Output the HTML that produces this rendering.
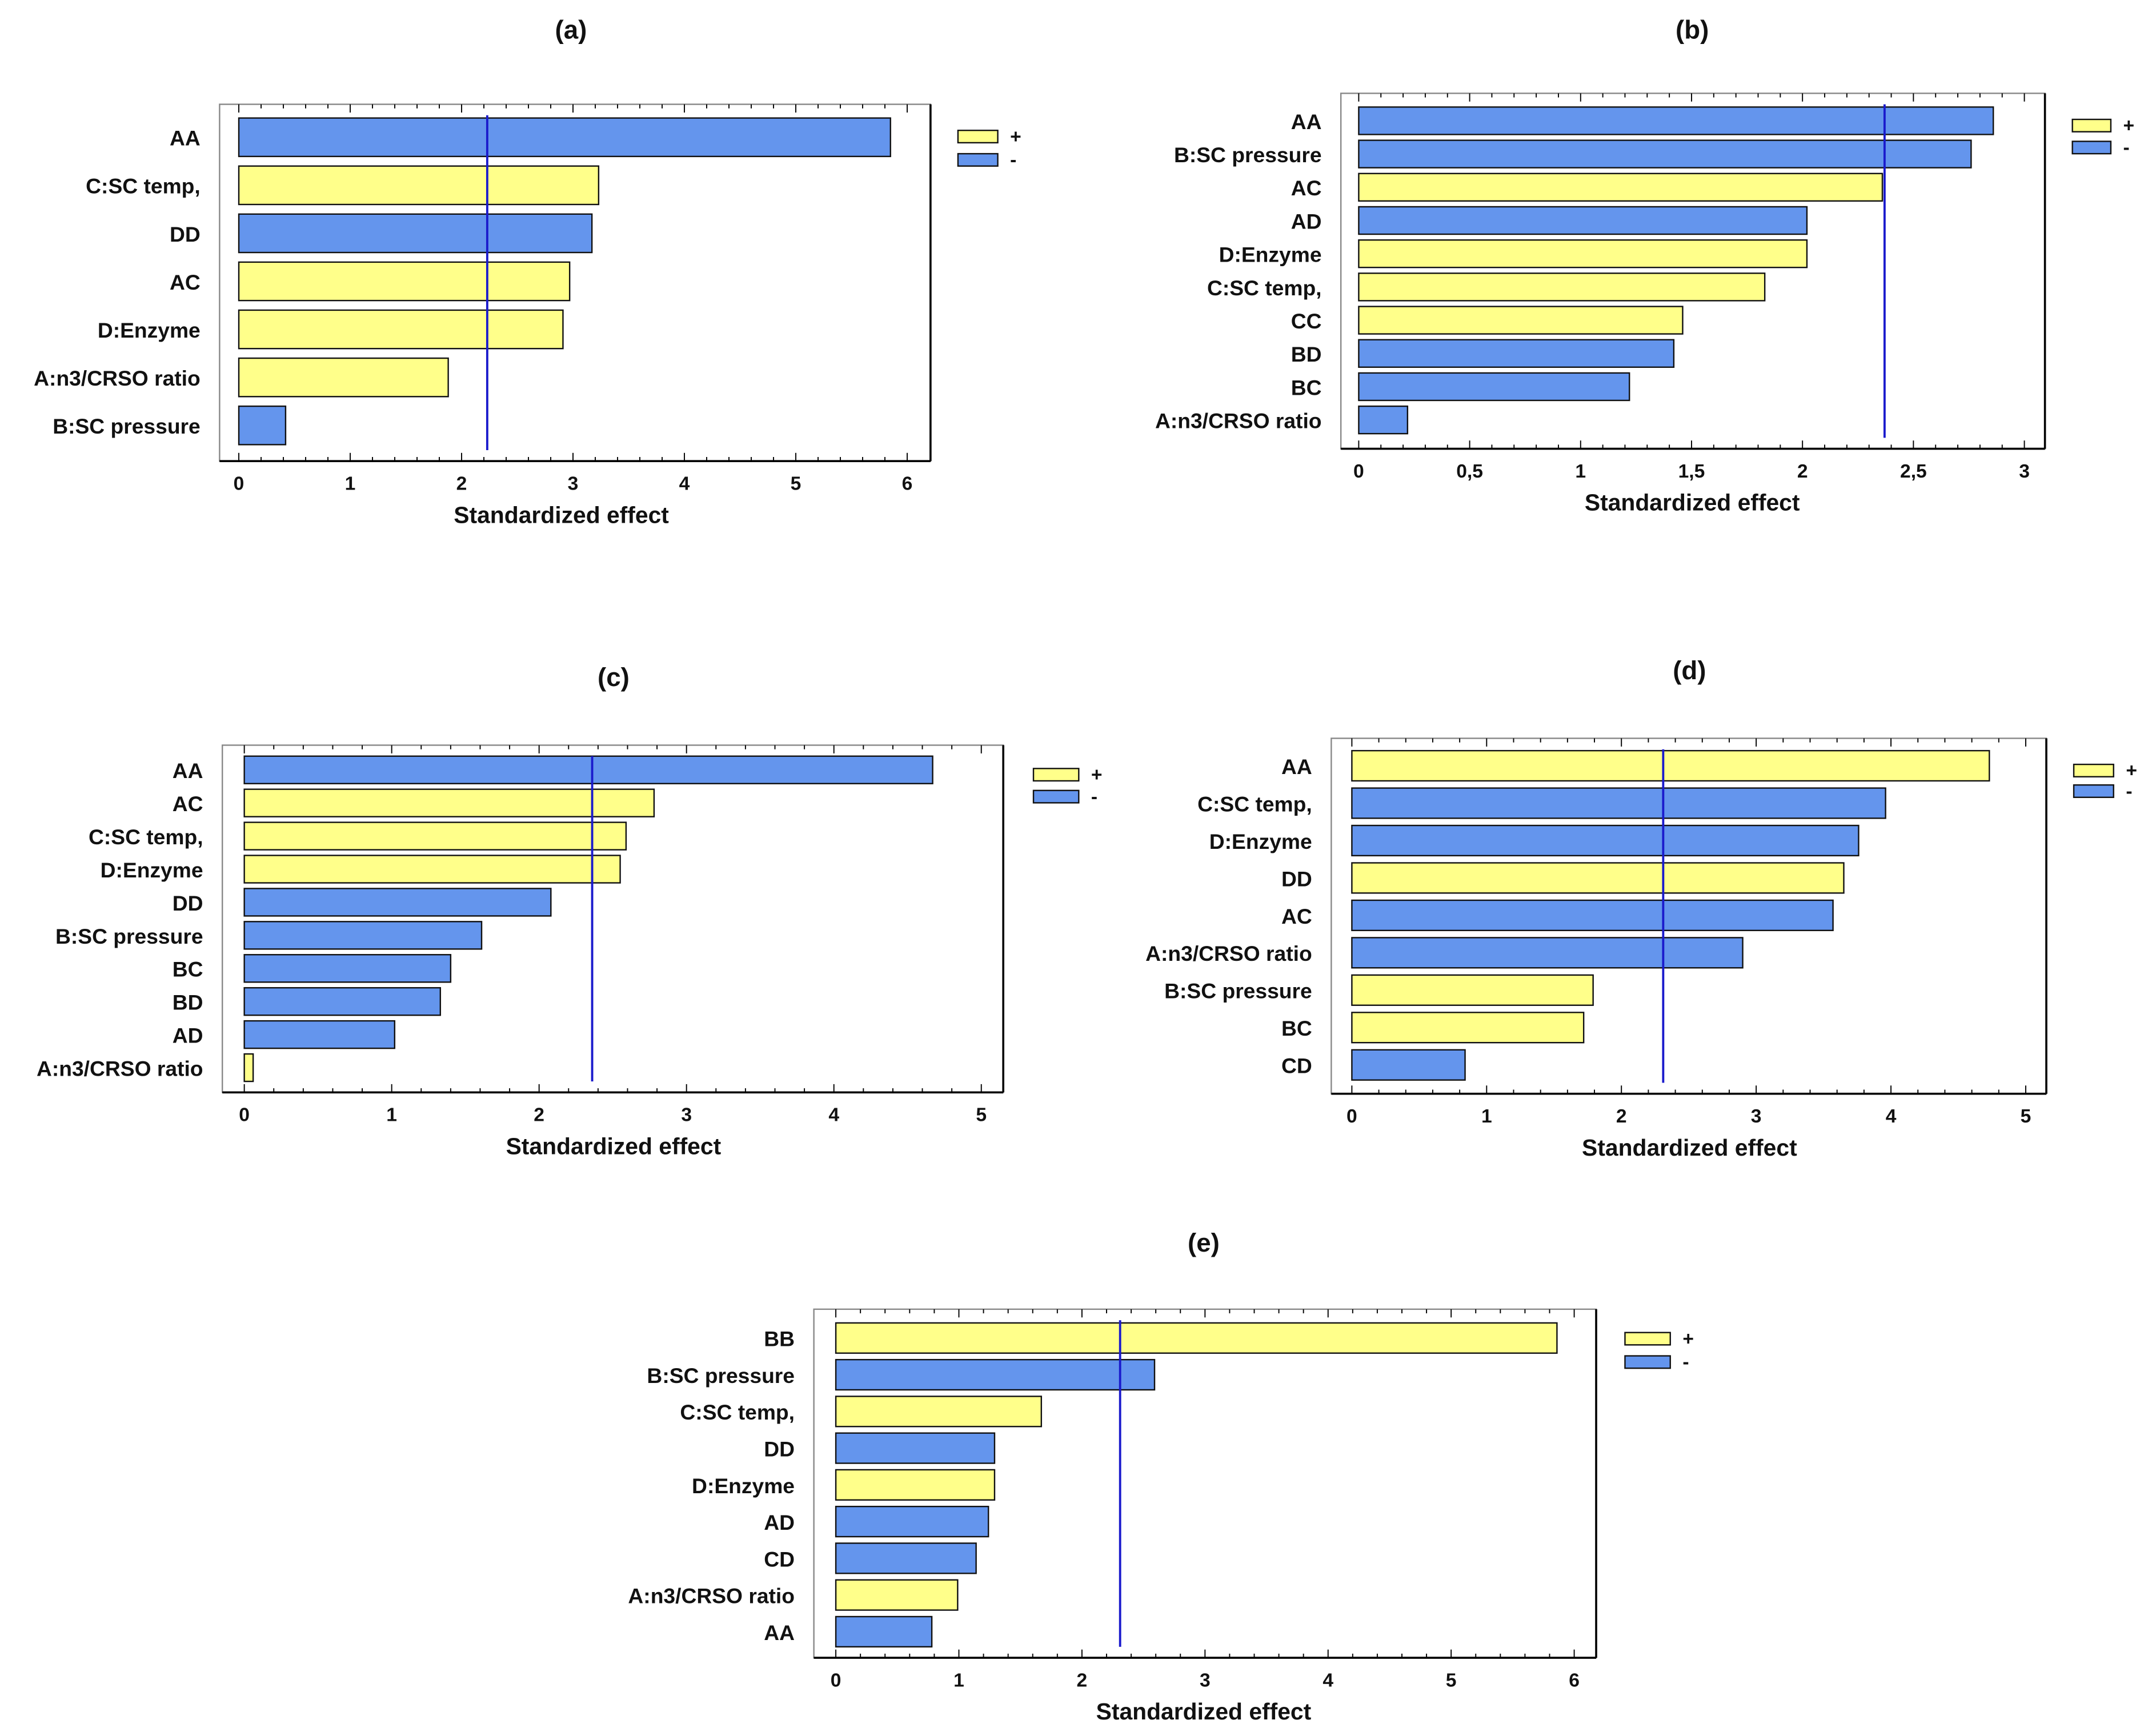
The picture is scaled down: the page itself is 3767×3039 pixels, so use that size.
<!DOCTYPE html>
<html><head><meta charset="utf-8"><style>
html,body{margin:0;padding:0;background:#fff;}
svg{display:block;}
text{font-family:"Liberation Sans",Arial,sans-serif;font-weight:bold;fill:#111;}
</style></head><body>
<svg id="fig" width="3767" height="3039" viewBox="0 0 1568 1265" preserveAspectRatio="none" xmlns="http://www.w3.org/2000/svg"></svg>
<script>
// ---- Panel (a) data ----
const catsA = ["AA","C:SC temp,","DD","AC","D:Enzyme","A:n3/CRSO ratio","B:SC pressure"];
const valsA = [5.85,3.23,3.17,2.97,2.91,1.88,0.42];
const signA = ["-","+","-","+","+","+","-"];
const ticksA = ["0","1","2","3","4","5","6"];
const critA = 2.23;
// ---- Panel (b) data ----
const catsB = ["AA","B:SC pressure","AC","AD","D:Enzyme","C:SC temp,","CC","BD","BC","A:n3/CRSO ratio"];
const valsB = [2.86,2.76,2.36,2.02,2.02,1.83,1.46,1.42,1.22,0.22];
const signB = ["-","-","+","-","+","+","+","-","-","-"];
const ticksB = ["0","0,5","1","1,5","2","2,5","3"];
const critB = 2.37;
// ---- Panel (c) data ----
const catsC = ["AA","AC","C:SC temp,","D:Enzyme","DD","B:SC pressure","BC","BD","AD","A:n3/CRSO ratio"];
const valsC = [4.67,2.78,2.59,2.55,2.08,1.61,1.40,1.33,1.02,0.06];
const signC = ["-","+","+","+","-","-","-","-","-","+"];
const ticksC = ["0","1","2","3","4","5"];
const critC = 2.36;
// ---- Panel (d) data ----
const catsD = ["AA","C:SC temp,","D:Enzyme","DD","AC","A:n3/CRSO ratio","B:SC pressure","BC","CD"];
const valsD = [4.73,3.96,3.76,3.65,3.57,2.90,1.79,1.72,0.84];
const signD = ["+","-","-","+","-","-","+","+","-"];
const ticksD = ["0","1","2","3","4","5"];
const critD = 2.31;
// ---- Panel (e) data ----
const catsE = ["BB","B:SC pressure","C:SC temp,","DD","D:Enzyme","AD","CD","A:n3/CRSO ratio","AA"];
const valsE = [5.86,2.59,1.67,1.29,1.29,1.24,1.14,0.99,0.78];
const signE = ["+","-","+","-","+","-","-","+","-"];
const ticksE = ["0","1","2","3","4","5","6"];
const critE = 2.31;

const NS="http://www.w3.org/2000/svg";
const svg=document.getElementById('fig');
function mk(tag,attrs,parent){const e=document.createElementNS(NS,tag);for(const k in attrs)e.setAttribute(k,attrs[k]);(parent||svg).appendChild(e);return e;}
const YEL="#ffff8a",BLU="#6495ed";

function panel(id,title,cats,vals,signs,ticks,crit,L){
  const g=mk('g',{});
  
  
  const tickVals=ticks.map(t=>parseFloat(t.replace(',','.')));
  const tmax=tickVals[tickVals.length-1];
  const xs=v=>L.x0+(L.x1-L.x0)*v/tmax;
  const ys=i=>L.yc0+i*(L.yc1-L.yc0)/(cats.length-1);
  const t=mk('text',{x:L.tx,y:L.ty,'font-size':19,'text-anchor':'middle'},g);
  t.textContent='('+id+')';
  
  
  // box
  const bx=mk('rect',{x:L.bl,y:L.bt,width:L.br-L.bl,height:L.bb-L.bt,fill:'#fff',stroke:'#888','stroke-width':1},g);
  
  
  mk('line',{x1:L.bl,y1:L.bb,x2:L.br,y2:L.bb,stroke:'#000','stroke-width':1.5},g);
  mk('line',{x1:L.br,y1:L.bt,x2:L.br,y2:L.bb,stroke:'#000','stroke-width':1.5},g);
  // ticks
  const step=tickVals[1]-tickVals[0];
  for(let k=0;k<=(tickVals.length-1)*5;k++){
    const v=k*step/5,x=xs(v),len=(k%5===0)?6:3;
    mk('line',{x1:x,y1:L.bb,x2:x,y2:L.bb-len,stroke:'#000','stroke-width':0.8},g);
    mk('line',{x1:x,y1:L.bt,x2:x,y2:L.bt+len,stroke:'#000','stroke-width':0.8},g);
  }
  ticks.forEach((tk,i)=>{
    const tl=mk('text',{x:xs(tickVals[i]),y:L.bb+21,'font-size':14,'text-anchor':'middle'},g);
    tl.textContent=tk;
    
    
  });
  const xt=mk('text',{x:L.axc,y:L.bb+45,'font-size':17,'text-anchor':'middle'},g);
  xt.textContent='Standardized effect';
  
  
  // bars
  cats.forEach((c,i)=>{
    const y=ys(i);
    const r=mk('rect',{x:xs(0),y:y-L.bh/2,width:xs(vals[i])-xs(0),height:L.bh,fill:signs[i]==='+'?YEL:BLU,stroke:'#111','stroke-width':1},g);
    
    
    const lb=mk('text',{x:L.bl-14,y:y+6,'font-size':15.5,'text-anchor':'end'},g);
    lb.textContent=c;
    
    
  });
  const cl=mk('line',{x1:xs(crit),y1:L.bt+8,x2:xs(crit),y2:L.bb-8,stroke:'#1a1acc','stroke-width':1.6},g);
  
  
  // legend
  const lg=mk('g',{},g);
  
  
  [['+',YEL,L.ly],['-',BLU,L.ly+L.lgap]].forEach(([s,col,yy])=>{
    const e=mk('rect',{x:L.lx,y:yy,width:L.lw,height:9,fill:col,stroke:'#111','stroke-width':1},lg);
    
    
    const lt=mk('text',{x:L.lx+L.lw+9,y:yy+9,'font-size':14},lg);
    lt.textContent=s;
  });
}
panel('a','a',catsA,valsA,signA,ticksA,critA,{tx:416,ty:28,bl:160,br:678,bt:76,bb:336,x0:174,x1:661,yc0:100,yc1:310,bh:28,axc:409,lx:698,ly:95,lgap:17,lw:29});
panel('b','b',catsB,valsB,signB,ticksB,critB,{tx:1233,ty:28,bl:977,br:1490,bt:68,bb:327,x0:990,x1:1475,yc0:88,yc1:306,bh:20,axc:1233,lx:1510,ly:87,lgap:16,lw:28});
panel('c','c',catsC,valsC,signC,ticksC,critC,{tx:447,ty:500,bl:162,br:731,bt:543,bb:796,x0:178,x1:715,yc0:561,yc1:778,bh:20,axc:447,lx:753,ly:560,lgap:16,lw:33});
panel('d','d',catsD,valsD,signD,ticksD,critD,{tx:1231,ty:495,bl:970,br:1491,bt:538,bb:797,x0:985,x1:1476,yc0:558,yc1:776,bh:22,axc:1231,lx:1511,ly:557,lgap:15,lw:29});
panel('e','e',catsE,valsE,signE,ticksE,critE,{tx:877,ty:912,bl:593,br:1163,bt:954,bb:1208,x0:609,x1:1147,yc0:975,yc1:1189,bh:22,axc:877,lx:1184,ly:971,lgap:17,lw:33});
</script>
</body></html>
